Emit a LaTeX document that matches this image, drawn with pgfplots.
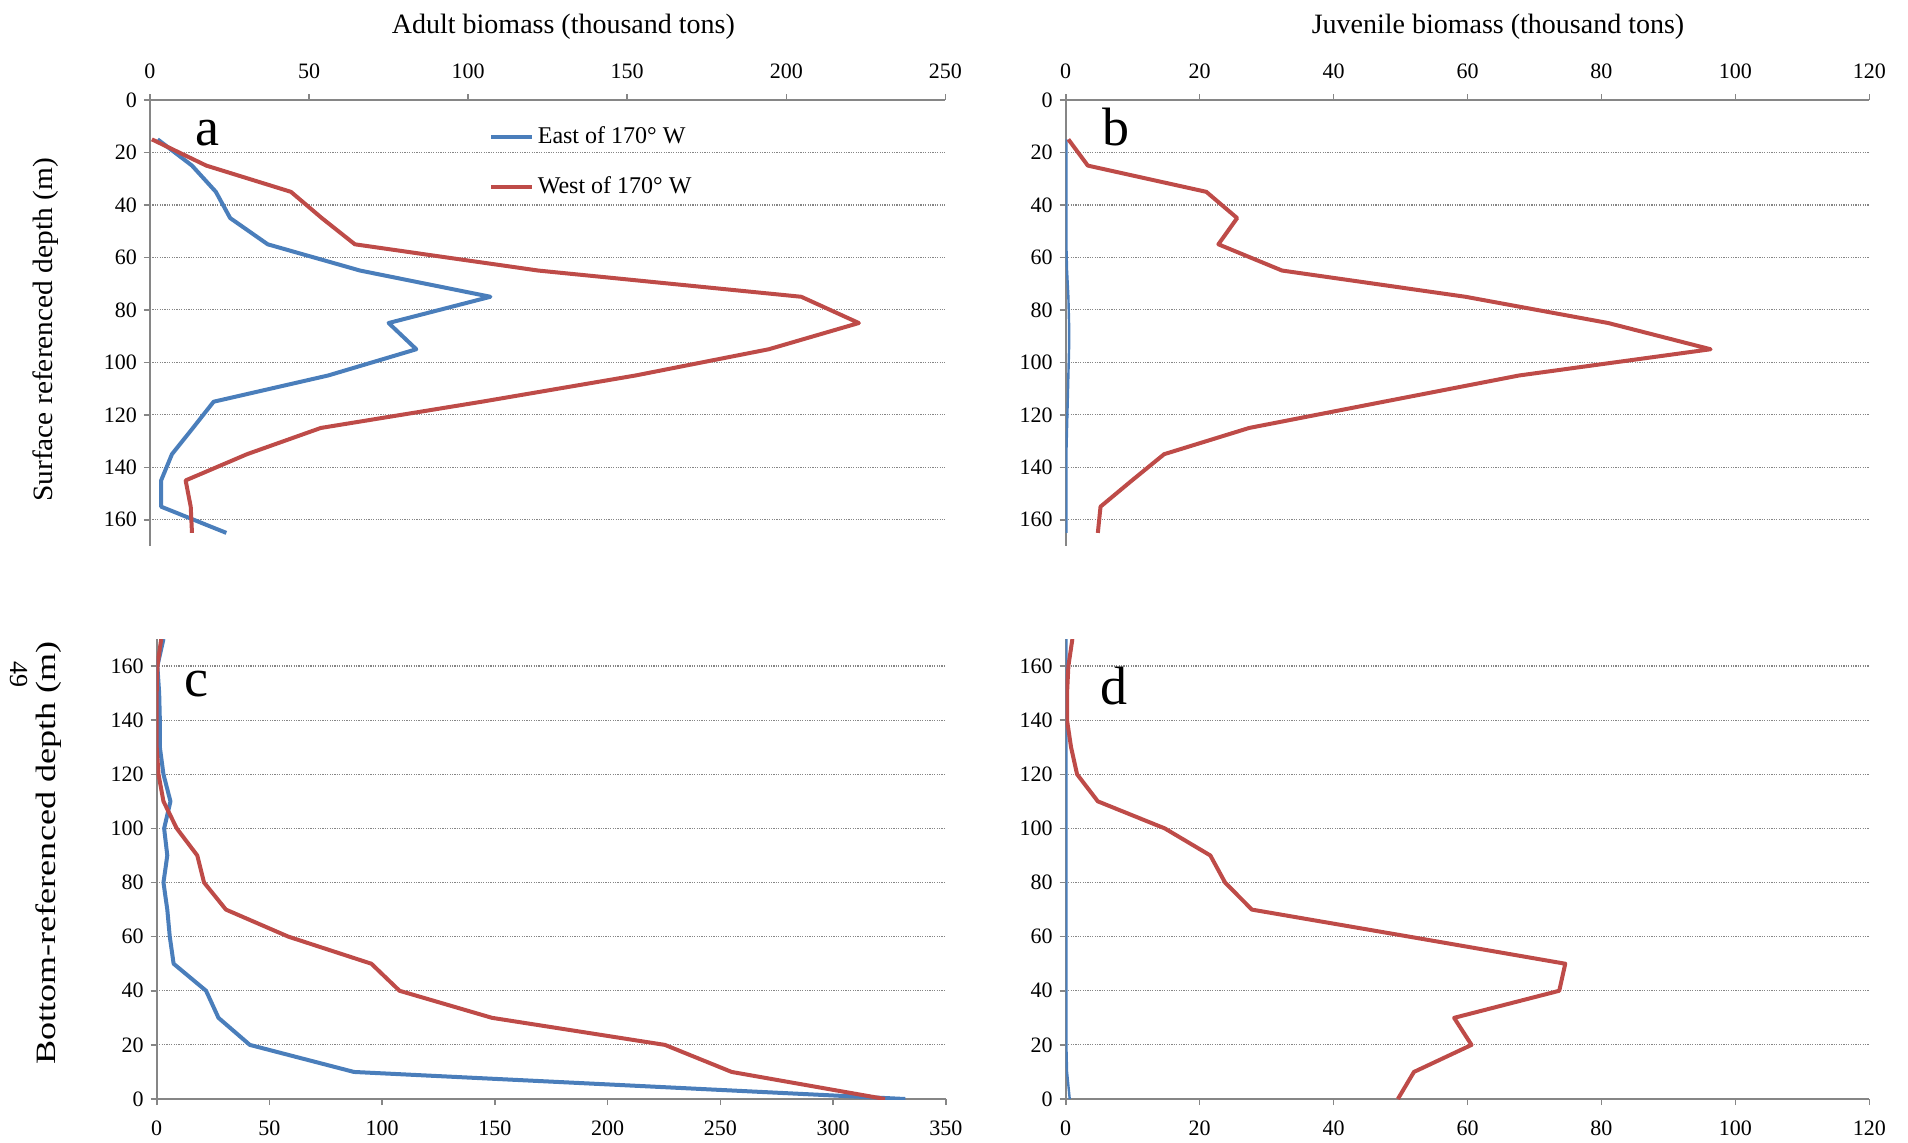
\documentclass[border=0pt]{standalone}
\usepackage{fontspec}
\setmainfont{Liberation Serif}
\usepackage{graphicx}
\usepackage{pgfplots}
\pgfplotsset{compat=1.18}
\definecolor{eblue}{RGB}{74,126,187}
\definecolor{wred}{RGB}{190,75,72}
\definecolor{axgray}{RGB}{134,134,134}

\pgfplotsset{
 panel/.style={
  scale only axis,
  /pgf/number format/assume math mode=true,
  ticklabel style={font=\fontsize{11}{13}\selectfont},
  tick align=outside,
  major tick length=3pt,
  axis line style={axgray, line width=1pt},
  tick style={axgray, line width=0.8pt},
  ymajorgrids,
  grid style={axgray, line width=0.6pt, dash pattern=on 0.6pt off 0.6pt},
  ytick={0,20,...,160},
  ymin=0, ymax=170,
  xmin=0,
  every axis plot/.append style={line width=2pt, line join=round, no markers},
 },
 top panel/.style={panel, y dir=reverse, axis x line*=top, axis y line*=left, height=223pt,
   xticklabel style={yshift=4.3pt}},
 bottom panel/.style={panel, axis x line*=bottom, axis y line*=left, height=230pt,
   xticklabel style={yshift=-4.3pt}},
}

\begin{document}
\begin{tikzpicture}
\useasboundingbox (0,0) rectangle (954pt,-571pt);

% ---------- panel a ----------
\begin{axis}[top panel, at={(75pt,-50pt)}, anchor=north west, width=397.7pt,
  xmax=250, xtick={0,50,...,250},
  legend style={at={(0.4260,0.95)}, anchor=north west, draw=none, fill=none,
    font=\fontsize{12}{14}\selectfont, row sep=11pt, inner sep=0pt},
  legend cell align=left,
  legend image code/.code={\draw[#1, line width=2pt] (0pt,0pt) -- (20.3pt,0pt);}]
\addplot[eblue] coordinates {(2.4,15) (13.2,25) (20.7,35) (25.2,45) (37,55) (66,65) (107,75) (75,85) (83.7,95) (56,105) (20,115) (13.5,125) (6.9,135) (3.5,145) (3.5,155) (24,165)};
\addlegendentry{East of 170° W}
\addplot[wred] coordinates {(0.6,15) (17.7,25) (44.3,35) (54,45) (64.4,55) (122,65) (204.7,75) (222.8,85) (194.5,95) (152.6,105) (104.3,115) (53.7,125) (30.5,135) (11.2,145) (12.8,155) (13.2,165)};
\addlegendentry{West of 170° W}
\node[anchor=base, font=\fontsize{27}{30}\selectfont] at (axis cs:18.1,17.5) {a};
\end{axis}

% ---------- panel b ----------
\begin{axis}[top panel, at={(532.85pt,-50pt)}, anchor=north west, width=401.8pt,
  xmax=120, xtick={0,20,...,120}]
\addplot[eblue, line width=1.2pt] coordinates {(0.1,15) (0.1,25) (0.1,35) (0.1,45) (0.1,55) (0.2,65) (0.4,75) (0.5,85) (0.5,95) (0.4,105) (0.3,115) (0.2,125) (0.1,135) (0.1,145) (0.1,155) (0.1,165)};
\addplot[wred] coordinates {(0.4,15) (3.3,25) (21,35) (25.6,45) (22.8,55) (32.3,65) (59.7,75) (81,85) (96.3,95) (67.7,105) (47.5,115) (27.4,125) (14.7,135) (9.9,145) (5.2,155) (4.8,165)};
\node[anchor=base, font=\fontsize{27}{30}\selectfont] at (axis cs:7.48,17.5) {b};
\end{axis}

% ---------- panel c ----------
\begin{axis}[bottom panel, at={(78.35pt,-549.5pt)}, anchor=south west, width=394.6pt,
  xmax=350, xtick={0,50,...,350}]
\addplot[eblue] coordinates {(332,0) (87.5,10) (41.3,20) (27.4,30) (21.9,40) (7.5,50) (5.8,60) (4.7,70) (3,80) (4.7,90) (3.3,100) (6.1,110) (3,120) (1.4,130) (1.4,140) (1.1,150) (0.3,160) (3,170)};
\addplot[wred] coordinates {(323,0) (255,10) (225.4,20) (148.7,30) (107.7,40) (95.2,50) (58.4,60) (30.7,70) (21,80) (18,90) (8.9,100) (3,110) (0.8,120) (0,130) (0,140) (0,150) (0.3,160) (2,170)};
\node[anchor=base, font=\fontsize{27}{30}\selectfont] at (axis cs:17.7,148.6) {c};
\end{axis}

% ---------- panel d ----------
\begin{axis}[bottom panel, at={(532.85pt,-549.5pt)}, anchor=south west, width=401.8pt,
  xmax=120, xtick={0,20,...,120}]
\addplot[eblue, line width=1.2pt] coordinates {(0.6,0) (0.2,10) (0.1,20) (0.1,30) (0.1,40) (0.1,50) (0.1,60) (0.1,70) (0.1,80) (0.1,90) (0.1,100) (0.1,110) (0.1,120) (0.1,130) (0.1,140) (0.1,150) (0.1,160) (0.1,170)};
\addplot[wred] coordinates {(49.6,0) (52,10) (60.6,20) (58,30) (73.7,40) (74.6,50) (51.3,60) (27.8,70) (23.8,80) (21.6,90) (14.8,100) (4.8,110) (1.7,120) (0.8,130) (0.2,140) (0.2,150) (0.4,160) (1,170)};
\node[anchor=base, font=\fontsize{27}{30}\selectfont] at (axis cs:7.27,145.8) {d};
\end{axis}

% ---------- titles and labels ----------
\node[anchor=base, font=\fontsize{14}{16}\selectfont] at (281.7pt,-16.7pt) {Adult biomass (thousand tons)};
\node[anchor=base, font=\fontsize{14}{16}\selectfont] at (749pt,-16.7pt) {Juvenile biomass (thousand tons)};
\node[rotate=90, font=\fontsize{14}{16}\selectfont] at (23pt,-165pt) {\scalebox{1.05}[1]{Surface referenced depth (m)}};
\node[rotate=90, font=\fontsize{14}{16}\selectfont] at (24.3pt,-426.5pt) {\scalebox{1.29}[1]{Bottom-referenced depth (m)}};
\node[rotate=-90, font=\fontsize{13}{15}\selectfont] at (9.25pt,-337.25pt) {49};
\end{tikzpicture}
\end{document}
